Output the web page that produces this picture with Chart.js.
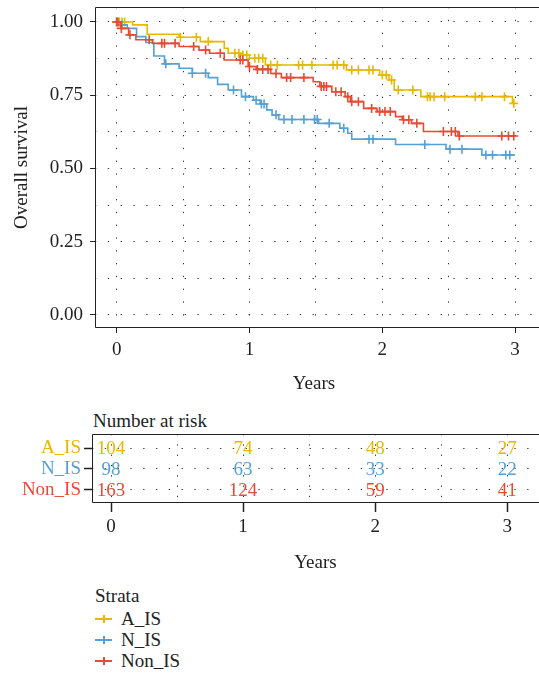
<!DOCTYPE html>
<html lang="en">
<head>
  <meta charset="UTF-8" />
  <title>Overall survival</title>
  <script src="https://cdn.jsdelivr.net/npm/chart.js"></script>
  <style>
    body { margin: 0; width: 539px; height: 673px; position: relative; background: #fff; overflow: hidden;
           font-family: "Liberation Serif", serif; color: #222; }
    canvas { position: absolute; left: 0; }
    #km { top: 0; }
    #risk { top: 400px; }
    #riskTitle { position: absolute; left: 93px; top: 410px; font-size: 19px; line-height: 21px; }
    #legend { position: absolute; left: 95px; top: 585px; font-size: 19px; line-height: 21px; }
    #legend .head { margin-bottom: 2px; }
    #legend .item { position: relative; padding-left: 26px; }
    #legend .key { position: absolute; left: 0; top: 10px; width: 17px; height: 2px; }
    #legend .key::after { content: ''; position: absolute; left: 7.5px; top: -3px; width: 2px; height: 8px; background: inherit; }
  </style>
</head>
<body>
  <canvas id="km" width="539" height="400"></canvas>
  <div id="riskTitle">Number at risk</div>
  <canvas id="risk" width="539" height="180"></canvas>
  <div id="legend">
    <div class="head">Strata</div>
    <div class="item"><span class="key" style="background:#E7B800"></span>A_IS</div>
    <div class="item"><span class="key" style="background:#56A0D3"></span>N_IS</div>
    <div class="item"><span class="key" style="background:#E64B35"></span>Non_IS</div>
  </div>

  <script>
    const strata = ['A_IS', 'N_IS', 'Non_IS'];
    const colors = ['#E7B800', '#56A0D3', '#E64B35'];

    // step points: time (years) and survival after the step
    const timesA = [0, 0.12, 0.23, 0.47, 0.63, 0.81, 0.84, 0.93, 1.00, 1.12, 1.73, 1.98, 2.05, 2.09, 2.29, 2.98, 3.00];
    const survA  = [1.000, 0.990, 0.958, 0.948, 0.933, 0.910, 0.893, 0.887, 0.876, 0.853, 0.836, 0.819, 0.802, 0.768, 0.745, 0.722, 0.722];
    const censorA = [0.00, 0.02, 0.04, 0.06, 0.48, 0.60, 0.69, 0.89, 0.92, 0.95, 0.98, 1.04, 1.07, 1.10, 1.16, 1.21, 1.37, 1.40, 1.47,
                     1.63, 1.66, 1.71, 1.77, 1.82, 1.90, 1.93, 2.00, 2.03, 2.07, 2.12, 2.23, 2.34, 2.36, 2.39, 2.47, 2.70, 2.75, 2.92, 2.99];

    const timesN = [0, 0.03, 0.08, 0.15, 0.22, 0.28, 0.36, 0.47, 0.57, 0.69, 0.76, 0.84, 0.94, 1.03, 1.08, 1.13, 1.17, 1.22, 1.52,
                    1.68, 1.74, 1.77, 2.10, 2.48, 2.75, 3.00];
    const survN  = [1.000, 0.990, 0.978, 0.950, 0.930, 0.884, 0.857, 0.842, 0.825, 0.810, 0.787, 0.768, 0.745, 0.733, 0.720, 0.700,
                    0.683, 0.667, 0.654, 0.637, 0.620, 0.600, 0.582, 0.566, 0.546, 0.546];
    const censorN = [0.04, 0.37, 0.57, 0.67, 0.88, 0.97, 1.05, 1.09, 1.11, 1.20, 1.26, 1.32, 1.41, 1.49, 1.51, 1.60, 1.71, 1.90, 1.93,
                     2.32, 2.51, 2.60, 2.78, 2.83, 2.93, 2.96];

    const timesR = [0, 0.03, 0.09, 0.145, 0.27, 0.47, 0.62, 0.70, 0.81, 0.99, 1.05, 1.16, 1.24, 1.48, 1.53, 1.62, 1.72, 1.76, 1.86,
                    1.96, 2.10, 2.15, 2.22, 2.31, 2.57, 3.00];
    const survR  = [1.000, 0.978, 0.956, 0.939, 0.927, 0.916, 0.904, 0.893, 0.870, 0.848, 0.838, 0.824, 0.810, 0.796, 0.780, 0.762,
                    0.745, 0.728, 0.705, 0.694, 0.677, 0.666, 0.654, 0.626, 0.611, 0.611];
    const censorR = [0.00, 0.01, 0.035, 0.10, 0.245, 0.34, 0.36, 0.44, 0.58, 0.67, 0.78, 0.93, 0.95, 1.00, 1.06, 1.10, 1.14, 1.20,
                     1.28, 1.31, 1.41, 1.54, 1.56, 1.58, 1.65, 1.69, 1.74, 1.77, 1.82, 1.92, 1.98, 2.02, 2.06, 2.16, 2.20, 2.26,
                     2.46, 2.52, 2.55, 2.58, 2.90, 2.95, 2.99];

    const riskTimes = [0, 1, 2, 3];
    const riskA = [104, 74, 48, 27];
    const riskN = [98, 63, 33, 22];
    const riskR = [163, 124, 59, 41];

    const yTicks = [0, 0.25, 0.5, 0.75, 1];
    const xTicks = [0, 1, 2, 3];

    const FONT = { family: '"Liberation Serif", serif', size: 19 };
    const INK = '#222';
    Chart.defaults.font = FONT;
    Chart.defaults.color = INK;

    function survAt(times, surv, t) {
      let s = surv[0];
      for (let i = 0; i < times.length; i++) if (times[i] <= t) s = surv[i];
      return s;
    }
    const curve = (times, surv) => times.map((t, i) => ({ x: t, y: surv[i] }));
    const marks = (times, surv, cens) => cens.map(t => ({ x: t, y: survAt(times, surv, t) }));

    const groups = [[timesA, survA, censorA], [timesN, survN, censorN], [timesR, survR, censorR]];
    const kmSets = [];
    groups.forEach(([t, s, c], i) => {
      kmSets.push({ type: 'line', label: strata[i], data: curve(t, s), stepped: 'before', borderColor: colors[i],
                    borderWidth: 1.6, pointRadius: 0, fill: false, order: 3 - i });
      kmSets.push({ type: 'scatter', label: strata[i] + ' censored', data: marks(t, s, c), pointStyle: 'cross',
                    pointRadius: 4.5, borderColor: colors[i], borderWidth: 1.6, order: 3 - i });
    });

    // left, top and bottom edges of the panel
    const panelBox = {
      id: 'panelBox',
      afterDraw(chart) {
        const { ctx, chartArea: a } = chart;
        ctx.save();
        ctx.strokeStyle = INK;
        ctx.lineWidth = 1;
        ctx.beginPath();
        ctx.moveTo(chart.width, Math.round(a.top) + 0.5);
        ctx.lineTo(Math.round(a.left) + 0.5, Math.round(a.top) + 0.5);
        ctx.lineTo(Math.round(a.left) + 0.5, Math.round(a.bottom) - 0.5);
        ctx.lineTo(chart.width, Math.round(a.bottom) - 0.5);
        ctx.stroke();
        ctx.restore();
      }
    };

    const noPad = s => { s.paddingTop = 0; s.paddingBottom = 0; s.paddingLeft = 0; s.paddingRight = 0; };
    const dots = { display: false, dash: [1.3, 11.5] };
    const gridInk = '#333';

    new Chart(document.getElementById('km'), {
      data: { datasets: kmSets },
      options: {
        responsive: false,
        animation: false,
        layout: { padding: { top: 7, right: 0, bottom: 0, left: 0 } },
        plugins: { legend: { display: false }, tooltip: { enabled: false } },
        scales: {
          x: {
            type: 'linear', min: -0.163, max: 3.134,
            afterBuildTicks: s => { s.ticks = [0, 0.5, 1, 1.5, 2, 2.5, 3].map(v => ({ value: v })); },
            afterFit: s => { s.height = 72; noPad(s); },
            ticks: { autoSkip: false, maxRotation: 0, padding: 6, color: INK,
                     callback: v => xTicks.includes(v) ? String(v) : '' },
            grid: { color: gridInk, lineWidth: 1, tickLength: 5, tickWidth: 1, tickBorderDash: [],
                    tickColor: c => xTicks.includes(c.tick.value) ? INK : 'rgba(0,0,0,0)' },
            border: dots,
            title: { display: true, text: 'Years', color: INK, padding: { top: 0, bottom: 5 } }
          },
          y: {
            type: 'linear', min: -0.0444, max: 1.051,
            afterBuildTicks: s => { s.ticks = [0, 0.125, 0.25, 0.375, 0.5, 0.625, 0.75, 0.875, 1].map(v => ({ value: v })); },
            afterFit: s => { s.width = 95; noPad(s); },
            ticks: { autoSkip: false, padding: 7, color: INK,
                     callback: v => yTicks.includes(v) ? v.toFixed(2) : '' },
            grid: { color: gridInk, lineWidth: 1, tickLength: 5, tickWidth: 1, tickBorderDash: [],
                    tickColor: c => yTicks.includes(c.tick.value) ? INK : 'rgba(0,0,0,0)' },
            border: dots,
            title: { display: true, text: 'Overall survival', color: INK, padding: { top: 11, bottom: 0 } }
          }
        }
      },
      plugins: [panelBox]
    });

    // number-at-risk table: invisible points carry the counts, a plugin writes them
    const riskRows = [riskA, riskN, riskR];
    const rowValue = [3, 2, 1];
    const riskSets = riskRows.map((counts, i) => ({
      type: 'scatter', label: strata[i],
      data: riskTimes.map((t, j) => ({ x: t, y: rowValue[i], n: counts[j] })),
      pointRadius: 0, textColor: colors[i]
    }));

    const riskText = {
      id: 'riskText',
      afterDatasetsDraw(chart) {
        const ctx = chart.ctx;
        ctx.save();
        ctx.font = '19px "Liberation Serif", serif';
        ctx.textAlign = 'center';
        ctx.textBaseline = 'middle';
        chart.data.datasets.forEach((ds, i) => {
          ctx.fillStyle = ds.textColor;
          chart.getDatasetMeta(i).data.forEach((pt, j) => ctx.fillText(String(ds.data[j].n), pt.x, pt.y + 1));
        });
        ctx.restore();
      }
    };

    new Chart(document.getElementById('risk'), {
      type: 'scatter',
      data: { datasets: riskSets },
      options: {
        responsive: false,
        animation: false,
        layout: { padding: { top: 34, right: 0, bottom: 0, left: 0 } },
        plugins: { legend: { display: false }, tooltip: { enabled: false } },
        scales: {
          x: {
            type: 'linear', min: -0.144, max: 3.24,
            afterBuildTicks: s => { s.ticks = [0, 0.5, 1, 1.5, 2, 2.5, 3].map(v => ({ value: v })); },
            afterFit: s => { s.height = 77; noPad(s); },
            ticks: { autoSkip: false, maxRotation: 0, padding: 4, color: INK,
                     callback: v => riskTimes.includes(v) ? String(v) : '' },
            grid: { color: gridInk, lineWidth: 1, tickLength: 9, tickWidth: 1.5, tickBorderDash: [],
                    tickColor: c => riskTimes.includes(c.tick.value) ? INK : 'rgba(0,0,0,0)' },
            border: { display: false, dash: [1.3, 9] },
            title: { display: true, text: 'Years', color: INK, padding: { top: 0, bottom: 6 } }
          },
          y: {
            type: 'linear', min: 0.38, max: 3.667,
            afterBuildTicks: s => { s.ticks = rowValue.map(v => ({ value: v })); },
            afterFit: s => { s.width = 92; noPad(s); },
            ticks: { autoSkip: false, padding: 3,
                     color: c => colors[rowValue.indexOf(c.tick.value)],
                     callback: v => strata[rowValue.indexOf(v)] },
            grid: { color: gridInk, lineWidth: 1, tickLength: 8, tickWidth: 1.5, tickBorderDash: [], tickColor: INK },
            border: { display: false, dash: [1.3, 11.5] }
          }
        }
      },
      plugins: [panelBox, riskText]
    });
  </script>
</body>
</html>
